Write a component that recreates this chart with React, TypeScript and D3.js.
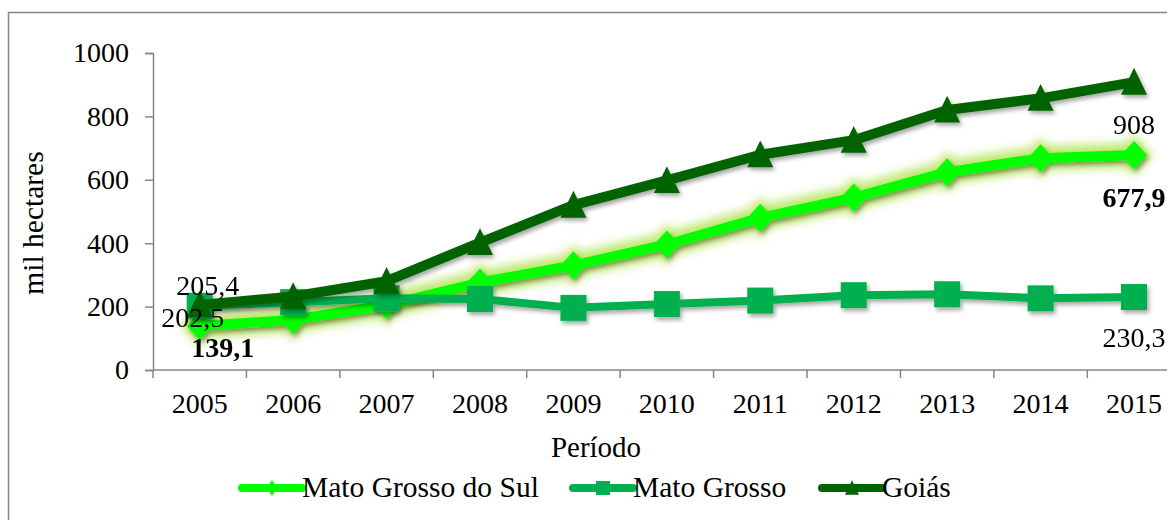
import React, { useRef, useEffect } from 'react';
import * as d3 from 'd3';

// área (mil hectares) por ano
const years = ['2005', '2006', '2007', '2008', '2009', '2010', '2011', '2012', '2013', '2014', '2015'];
const matoGrossoDoSul = [139.1, 158, 205, 276, 330, 396, 480, 544, 624, 668, 677.9];
const matoGrosso = [202.5, 214, 226, 224, 196, 208, 219, 236, 239, 226, 230.3];
const goias = [205.4, 232, 280, 402, 520, 598, 679, 725, 820, 857, 908];
const yTicks = [0, 200, 400, 600, 800, 1000];

const series = [
    { name: 'Mato Grosso do Sul', values: matoGrossoDoSul, color: '#00ff00', width: 10, marker: 'diamond', glow: true, bold: true },
    { name: 'Mato Grosso', values: matoGrosso, color: '#00b050', width: 8, marker: 'square', glow: false, bold: false },
    { name: 'Goiás', values: goias, color: '#006400', width: 10, marker: 'triangle', glow: false, bold: false },
];

// onde ficam os rótulos (primeiro e último ponto), deslocados do ponto
const labelOffsets = {
    'Mato Grosso do Sul': [[23, 31], [0, 52]],
    'Mato Grosso': [[-7, 21], [0, 50]],
    'Goiás': [[8, -10], [0, 52]],
};

const fmt = (v: number) => String(v).replace('.', ',');

function markerPath(kind: string, s: number) {
    if (kind === 'diamond') return `M0,${-s * 0.54}L${s * 0.5},0L0,${s * 0.54}L${-s * 0.5},0Z`;
    if (kind === 'square') return `M${-s / 2},${-s / 2}h${s}v${s}h${-s}Z`;
    return `M0,${-s * 0.55}L${s * 0.5},${s * 0.48}L${-s * 0.5},${s * 0.48}Z`;
}

const App = () => {
    const ref = useRef<SVGSVGElement>(null);

    useEffect(() => {
        const width = 1167;
        const height = 520;
        const left = 153;
        const bottom = 370;
        const top = 53;
        const step = 93.43;
        const font = '"Liberation Serif", "Times New Roman", serif';
        const axisColor = '#868686';

        const svg = d3.select(ref.current);
        svg.selectAll('*').remove();
        svg.attr('width', width).attr('height', height).style('font-family', font);

        const defs = svg.append('defs');
        const shadow = defs.append('filter').attr('id', 'shadow')
            .attr('x', '-20%').attr('y', '-20%').attr('width', '140%').attr('height', '160%');
        shadow.append('feDropShadow').attr('dx', 2).attr('dy', 3).attr('stdDeviation', 2)
            .attr('flood-color', '#000').attr('flood-opacity', 0.35);
        const glow = defs.append('filter').attr('id', 'glow')
            .attr('x', '-10%').attr('y', '-30%').attr('width', '120%').attr('height', '160%');
        glow.append('feGaussianBlur').attr('stdDeviation', 5);

        svg.append('rect').attr('width', width).attr('height', height).attr('fill', '#fff');
        svg.append('rect')
            .attr('x', 8.5).attr('y', 12.5)
            .attr('width', width + 20).attr('height', height + 20)
            .attr('fill', 'none').attr('stroke', axisColor).attr('stroke-width', 1.5);

        const x = d3.scaleBand().domain(years).range([left, left + step * years.length]);
        const y = d3.scaleLinear().domain([0, 1000]).range([bottom, top]);
        const cx = (d: string) => (x(d) as number) + x.bandwidth() / 2;

        // eixo y
        const yAxis = svg.append('g')
            .attr('transform', `translate(${left},0)`)
            .call(d3.axisLeft(y).tickValues(yTicks).tickFormat(d3.format('d'))
                .tickSize(8).tickSizeOuter(8).tickPadding(16));
        yAxis.selectAll('path, line').attr('stroke', axisColor).attr('stroke-width', 1.5);
        yAxis.selectAll('text').attr('font-size', 28).attr('font-family', font).attr('fill', '#000');

        // eixo x
        const xAxis = svg.append('g').attr('transform', `translate(0,${bottom})`);
        xAxis.append('line')
            .attr('x1', left).attr('x2', left + step * years.length)
            .attr('stroke', axisColor).attr('stroke-width', 1.5);
        xAxis.selectAll('line.tick')
            .data(years.concat(['end']))
            .join('line')
            .attr('class', 'tick')
            .attr('x1', (d, i) => left + i * step).attr('x2', (d, i) => left + i * step)
            .attr('y1', 0).attr('y2', 8)
            .attr('stroke', axisColor).attr('stroke-width', 1.5);
        xAxis.selectAll('text')
            .data(years)
            .join('text')
            .attr('x', d => cx(d)).attr('y', 43)
            .attr('text-anchor', 'middle').attr('font-size', 28)
            .text(d => d);

        svg.append('text')
            .attr('transform', `translate(43,${(153 + 293) / 2}) rotate(-90)`)
            .attr('text-anchor', 'middle').attr('font-size', 29.5)
            .text('mil hectares');
        svg.append('text')
            .attr('x', 596).attr('y', 457)
            .attr('text-anchor', 'middle').attr('font-size', 29)
            .text('Período');

        const line = d3.line<number>().x((d, i) => cx(years[i])).y(d => y(d));

        series.forEach(s => {
            const g = svg.append('g');
            if (s.glow) {
                const gg = g.append('g').attr('filter', 'url(#glow)').attr('opacity', 0.75);
                gg.append('path').attr('d', line(s.values))
                    .attr('fill', 'none').attr('stroke', '#a8e040').attr('stroke-width', s.width + 14)
                    .attr('stroke-linejoin', 'round').attr('stroke-linecap', 'round');
                gg.selectAll('path.m').data(s.values).join('path').attr('class', 'm')
                    .attr('transform', (d, i) => `translate(${cx(years[i])},${y(d)})`)
                    .attr('d', markerPath(s.marker, 38)).attr('fill', '#a8e040');
            }
            const sg = g.append('g').attr('filter', 'url(#shadow)');
            sg.append('path').attr('d', line(s.values))
                .attr('fill', 'none').attr('stroke', s.color).attr('stroke-width', s.width)
                .attr('stroke-linejoin', 'round');
            sg.selectAll('path.m').data(s.values).join('path').attr('class', 'm')
                .attr('transform', (d, i) => `translate(${cx(years[i])},${y(d)})`)
                .attr('d', markerPath(s.marker, 26)).attr('fill', s.color);
        });

        // rótulos de dados
        series.forEach(s => {
            const idx = [0, s.values.length - 1];
            const offs = labelOffsets[s.name];
            idx.forEach((i, k) => {
                svg.append('text')
                    .attr('x', cx(years[i]) + offs[k][0])
                    .attr('y', y(s.values[i]) + offs[k][1])
                    .attr('text-anchor', 'middle').attr('font-size', 28)
                    .attr('font-weight', s.bold ? 'bold' : 'normal')
                    .text(fmt(s.values[i]));
            });
        });

        // legenda
        const legendX = [242, 573, 822];
        const leg = svg.append('g').attr('transform', 'translate(0,488)');
        series.forEach((s, i) => {
            const lg = leg.append('g').attr('transform', `translate(${legendX[i]},0)`);
            lg.append('line').attr('x1', 0).attr('x2', 60)
                .attr('stroke', s.color).attr('stroke-width', 8).attr('stroke-linecap', 'round');
            lg.append('path').attr('transform', 'translate(30,0)')
                .attr('d', s.marker === 'diamond' ? 'M0,-8L5,0L0,8L-5,0Z' : markerPath(s.marker, 14))
                .attr('fill', s.color);
            lg.append('text').attr('x', 60).attr('y', 9).attr('font-size', 29.5).text(s.name);
        });
    }, []);

    return <svg ref={ref} style={{ position: 'absolute', left: 0, top: 0 }}></svg>;
};

export default App;
